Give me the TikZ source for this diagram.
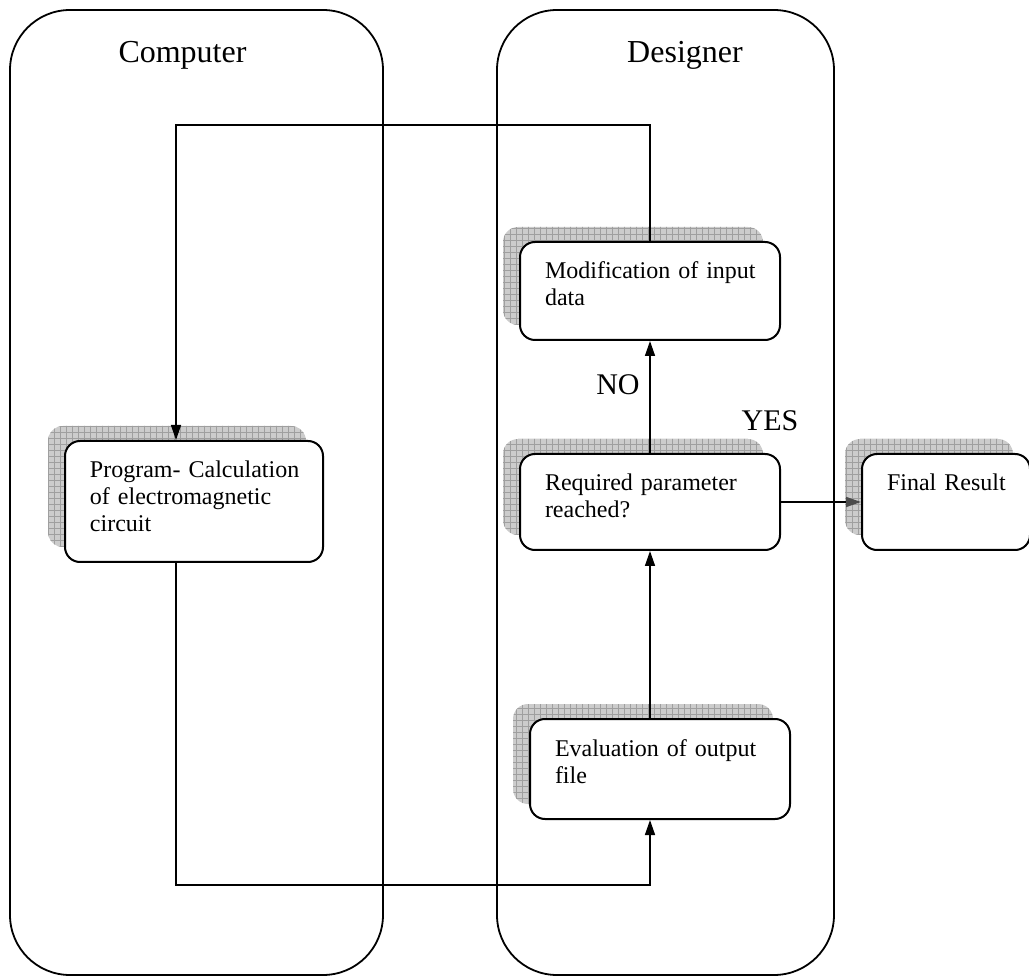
\documentclass[tikz,border=0pt]{standalone}
\usepackage{fontspec}
\setmainfont{Liberation Serif}
\usetikzlibrary{shapes.geometric, arrows.meta, shadows, patterns}
\usetikzlibrary{positioning}

\begin{document}
\begin{tikzpicture}[x=0.5pt, y=-0.5pt, align=left]

\tikzstyle{lane} = [rectangle, rounded corners=30pt, draw=black, line width=0.9pt, inner sep=0pt]
\tikzstyle{lanetitle} = [font=\fontsize{16}{19}\selectfont, anchor=base]
\tikzstyle{stepbox} = [rectangle, rounded corners=7.5pt, draw=black, line width=1pt, fill=white, inner xsep=12.5pt, inner ysep=0pt, text height=18.5pt, font=\fontsize{12}{13.5}\selectfont,
  general shadow={shadow xshift=-8.5pt, shadow yshift=7.5pt, fill=gray!40},
  general shadow={shadow xshift=-8.5pt, shadow yshift=7.5pt, pattern=grid, pattern color=gray!75}]
\tikzstyle{answer} = [font=\fontsize{15}{18}\selectfont]
\tikzstyle{arrow} = [line width=0.75pt, -{Triangle[length=7.5pt, width=5pt]}]
\tikzstyle{yesarrow} = [line width=0.75pt, -{Triangle[length=7.5pt, width=5pt, color=black!70]}]

\useasboundingbox (0,0) rectangle (1029,978);

% swim lanes
\node (complane) [lane, minimum width=186.5pt, minimum height=482.5pt] at (196.5,492.5) {};
\node (deslane) [lane, minimum width=168.5pt, minimum height=482.5pt] at (665.5,492.5) {};
\node (comptitle) [lanetitle] at (182.5,63) {Computer};
\node (destitle) [lanetitle] at (685,63) {Designer};

% steps
\node (progr) [stepbox, text width=104pt, text depth=42pt] at (194,501.5) {\mbox{Program- Calculation}\\\mbox{of electromagnetic}\\circuit};
\node (modif) [stepbox, text width=105pt, text depth=30.5pt] at (650,291) {\mbox{Modification of input}\\data};
\node (requ) [stepbox, text width=105pt, text depth=29.5pt] at (650,502) {\mbox{Required parameter}\\reached?};
\node (final) [stepbox, text width=59pt, text depth=29.5pt, right=40pt of requ] {\mbox{Final Result}};
\node (evalu) [stepbox, text width=105pt, text depth=31.5pt] at (660,769) {\mbox{Evaluation of output}\\file};

\node (no) [answer] at (618,385) {NO};
\node (yes) [answer] at (770,421) {YES};

\coordinate (looptop) at (176,125);
\coordinate (loopbot) at (176,885);

\draw [arrow] (modif.north) |- (looptop) -- ([xshift=-9pt]progr.north);
\draw [arrow] ([xshift=-9pt]progr.south) -- (loopbot) -| ([xshift=-5pt]evalu.south);
\draw [arrow] ([xshift=-5pt]evalu.north) -- (requ.south);
\draw [arrow] (requ) -- (modif);
\draw [yesarrow] (requ.east) -- (final.west |- requ.east);
\end{tikzpicture}
\end{document}
